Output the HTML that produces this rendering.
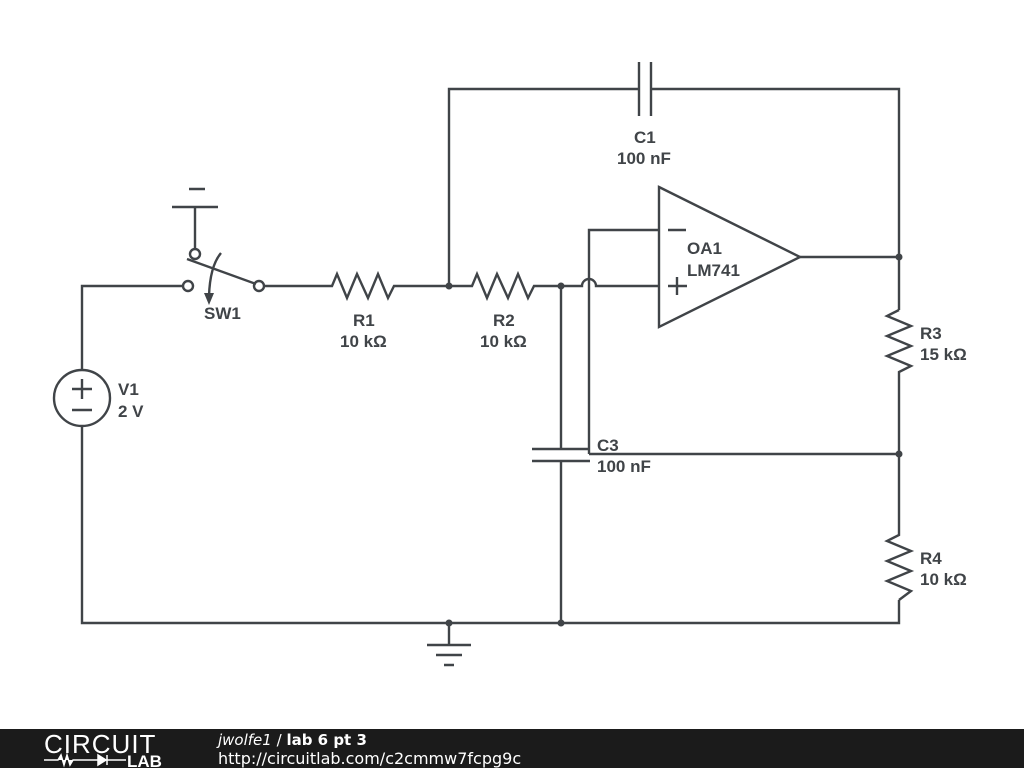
<!DOCTYPE html>
<html><head><meta charset="utf-8"><style>
html,body{margin:0;padding:0;background:#fff;width:1024px;height:768px;overflow:hidden}
svg{display:block}
text{font-family:"Liberation Sans",sans-serif;font-weight:bold;font-size:17px;fill:#404448}
</style></head><body>
<svg width="1024" height="768" viewBox="0 0 1024 768">
<g stroke="#404448" stroke-width="2.4" fill="none">
<path d="M82 370 V286 H183"/>
<path d="M82 426 V623 H899 V600"/>
<circle cx="82" cy="398" r="28"/>
<path d="M72 389 H92 M82 379 V399 M72 410 H92"/>
<circle cx="188" cy="286" r="5" fill="#fff"/>
<circle cx="259" cy="286" r="5" fill="#fff"/>
<circle cx="195" cy="254" r="5" fill="#fff"/>
<path d="M187 259 L256 284"/>
<path d="M195 249 V207 M172 207 H218 M189 189 H205"/>
<path d="M221 253 Q210 266 209 296"/>
<path d="M264 286 H332 L337 274 L347 298 L357 274 L368 298 L378 274 L388 298 L394 286 H472 L477 274 L487 298 L497 274 L508 298 L518 274 L528 298 L534 286 H582 A7 7 0 0 1 596 286 H659"/>
<path d="M449 286 V89 H639 M651 89 H899 V310"/>
<path d="M639 62 V116 M651 62 V116"/>
<path d="M659 187 L800 257 L659 327 Z"/>
<path d="M800 257 H899"/>
<path d="M589 454 V230 H659"/>
<path d="M668 230 H686 M668 286 H687 M677 277 V295"/>
<path d="M899 310 L887 316 L911 326 L887 336 L911 346 L887 356 L911 366 L899 372 V535 L887 541 L911 551 L887 561 L911 571 L887 581 L911 591 L899 600"/>
<path d="M589 454 H899"/>
<path d="M561 286 V449 M532 449 H590 M532 461 H590 M561 461 V623"/>
<path d="M449 623 V645 M427 645 H471 M436 655 H462 M444 665 H454"/>
</g>
<g fill="#404448">
<circle cx="449" cy="286" r="3.5"/><circle cx="561" cy="286" r="3.5"/>
<circle cx="899" cy="257" r="3.5"/><circle cx="899" cy="454" r="3.5"/>
<circle cx="449" cy="623" r="3.5"/><circle cx="561" cy="623" r="3.5"/>
<path d="M204 293 L214 293 L209 305 Z"/>
</g>
<text x="204" y="319">SW1</text>
<text x="353" y="326">R1</text><text x="340" y="347">10 kΩ</text>
<text x="493" y="326">R2</text><text x="480" y="347">10 kΩ</text>
<text x="634" y="143">C1</text><text x="617" y="164">100 nF</text>
<text x="687" y="254">OA1</text><text x="687" y="276">LM741</text>
<text x="118" y="395">V1</text><text x="118" y="417">2 V</text>
<text x="920" y="339">R3</text><text x="920" y="360">15 kΩ</text>
<text x="597" y="451">C3</text><text x="597" y="472">100 nF</text>
<text x="920" y="564">R4</text><text x="920" y="585">10 kΩ</text>
<rect x="0" y="729" width="1024" height="39" fill="#1b1b1b"/>
<text x="44" y="753" style="font-weight:normal;font-size:26px;fill:#fff;letter-spacing:1px">CIRCUIT</text>
<path d="M44 760 H58 L61 755 L64 765 L67 755 L70 765 L73 760 H98 M98 755 V765 L106 760 Z M107 755 V765 M107 760 H126" stroke="#fff" stroke-width="1.5" fill="#fff"/>
<text x="127" y="767" style="font-size:17px;fill:#fff">LAB</text>
<text x="218" y="745" style="fill:#fff;font-size:15px;font-family:'DejaVu Sans',sans-serif"><tspan style="font-style:italic;font-weight:normal">jwolfe1</tspan><tspan style="font-weight:normal"> / </tspan>lab 6 pt 3</text>
<text x="218" y="764" style="fill:#fff;font-weight:normal;font-size:16px;font-family:'DejaVu Sans',sans-serif">http://circuitlab.com/c2cmmw7fcpg9c</text>
</svg>
</body></html>
